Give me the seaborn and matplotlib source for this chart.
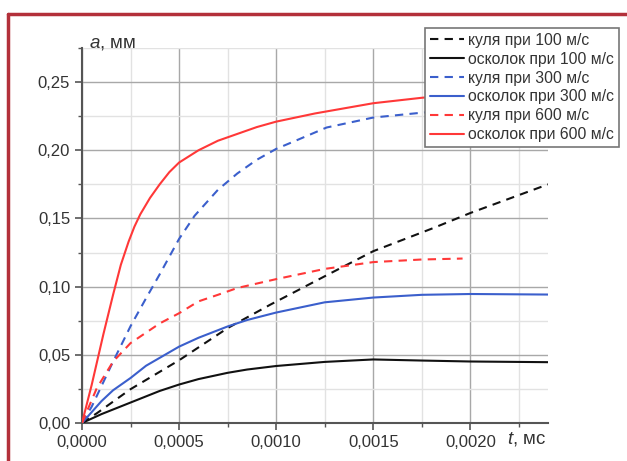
import matplotlib
matplotlib.use('Agg')

import numpy as np
import pandas as pd
import matplotlib.pyplot as plt
import seaborn as sns
from matplotlib.ticker import MultipleLocator, FuncFormatter
from matplotlib.lines import Line2D

# time t, ms  /  displacement a, mm
t_k100 = [0, 0.000076, 0.00025, 0.0005, 0.00075, 0.00097, 0.00125, 0.0015, 0.00181, 0.0020, 0.0024]
a_k100 = [0, 0.0071, 0.0248, 0.046, 0.0696, 0.0868, 0.1076, 0.126, 0.143, 0.154, 0.175]

t_o100 = [0, 0.0001, 0.00025, 0.0004, 0.0005, 0.0006, 0.00075, 0.00085, 0.0010, 0.00125, 0.0015,
          0.00175, 0.0020, 0.0024]
a_o100 = [0, 0.0065, 0.015, 0.0235, 0.0282, 0.0322, 0.0368, 0.0392, 0.0418, 0.0448, 0.0466,
          0.0458, 0.0451, 0.0446]

t_k300 = [0, 0.00005, 0.0001, 0.00016, 0.00025, 0.00033, 0.0004, 0.0005, 0.00058, 0.0007, 0.0008,
          0.0009, 0.0010, 0.0011, 0.00126, 0.0015, 0.00176, 0.0020]
a_k300 = [0, 0.012, 0.027, 0.045, 0.071, 0.0915, 0.109, 0.135, 0.152, 0.171, 0.183,
          0.193, 0.201, 0.207, 0.2167, 0.224, 0.2277, 0.229]

t_o300 = [0, 0.0001, 0.00016, 0.00025, 0.00033, 0.0005, 0.0006, 0.00075, 0.00085, 0.0010, 0.00125,
          0.0015, 0.00175, 0.0020, 0.0024]
a_o300 = [0, 0.016, 0.024, 0.033, 0.042, 0.056, 0.0625, 0.0708, 0.0755, 0.081, 0.0885,
          0.092, 0.094, 0.0946, 0.0942]

t_k600 = [0, 0.000076, 0.00016, 0.00025, 0.0004, 0.0005, 0.0006, 0.0007, 0.0008, 0.0010, 0.00125,
          0.0015, 0.00175, 0.00196]
a_k600 = [0, 0.0255, 0.045, 0.0586, 0.073, 0.0805, 0.0892, 0.094, 0.099, 0.1055, 0.113,
          0.118, 0.1199, 0.1206]

t_o600 = [0, 0.00005, 0.00011, 0.00016, 0.0002, 0.00024, 0.00027, 0.0003, 0.00035, 0.0004, 0.00045,
          0.0005, 0.0006, 0.0007, 0.0008, 0.0009, 0.0010, 0.0012, 0.0015, 0.00175, 0.0020]
a_o600 = [0, 0.028, 0.065, 0.094, 0.116, 0.133, 0.144, 0.153, 0.165, 0.175, 0.184,
          0.191, 0.200, 0.207, 0.212, 0.217, 0.221, 0.227, 0.2345, 0.2385, 0.2415]

labels = ['куля при 100 м/с', 'осколок при 100 м/с',
          'куля при 300 м/с', 'осколок при 300 м/с',
          'куля при 600 м/с', 'осколок при 600 м/с']
colors = ['#111111', '#111111', '#3b5fcc', '#3b5fcc', '#ff3838', '#ff3838']
dashed = [True, False, True, False, True, False]
series = [(t_k100, a_k100), (t_o100, a_o100), (t_k300, a_k300),
          (t_o300, a_o300), (t_k600, a_k600), (t_o600, a_o600)]

sns.set_style('white')
plt.rcParams['font.family'] = ['Liberation Sans', 'DejaVu Sans']
plt.rcParams['mathtext.fontset'] = 'custom'
plt.rcParams['mathtext.it'] = 'Liberation Sans:italic'
plt.rcParams['mathtext.rm'] = 'Liberation Sans'

fig = plt.figure(figsize=(6.27, 4.61), dpi=100)
ax = fig.add_axes([82/627, 1-423/461, (548-82)/627, (423-48)/461])

for (tx, ay), lab, c, d in zip(series, labels, colors, dashed):
    df = pd.DataFrame({'t': tx, 'a': ay})
    sns.lineplot(data=df, x='t', y='a', ax=ax, color=c, lw=1.5,
                 linestyle=(0, (4, 3)) if d else '-', label=lab, zorder=3)

ax.set_xlim(0, 0.0024)
ax.set_ylim(0, 0.275)
ax.xaxis.set_major_locator(MultipleLocator(0.0005))
ax.xaxis.set_minor_locator(MultipleLocator(0.00025))
ax.yaxis.set_major_locator(MultipleLocator(0.05))
ax.yaxis.set_minor_locator(MultipleLocator(0.025))
ax.xaxis.set_major_formatter(FuncFormatter(lambda v, p: ('%.4f' % v).replace('.', ',') if v < 0.0022 else ''))
ax.yaxis.set_major_formatter(FuncFormatter(lambda v, p: ('%.2f' % v).replace('.', ',')))
ax.grid(which='major', color='#a8a8a8', lw=1.0)
ax.grid(which='minor', color='#e2e2e2', lw=1.0)
ax.set_axisbelow(True)
ax.set_xlabel('')
ax.set_ylabel('')

for s in ['top', 'right']:
    ax.spines[s].set_visible(False)
for s in ['left', 'bottom']:
    ax.spines[s].set_color('#555555')
    ax.spines[s].set_linewidth(1.5)
ax.tick_params(which='major', direction='out', length=5, width=1.2, color='#555555',
               labelsize=12, labelcolor='#333333', bottom=True, left=True)
ax.tick_params(which='minor', direction='out', length=3, width=1.0, color='#555555',
               bottom=True, left=True)

fig.text(89/627, 1-44/461, r'$\it{a}$, мм', fontsize=13.5, color='#333333', ha='left', va='center')
fig.text(507/627, 1-439/461, r'$\it{t}$, мс', fontsize=13.5, color='#333333', ha='left', va='center')

leg = ax.legend(loc='upper left', bbox_to_anchor=(425/627, 1-28/461), bbox_transform=fig.transFigure,
                fontsize=11.3, frameon=True, fancybox=False, framealpha=1, edgecolor='#777777',
                handlelength=2.2, handletextpad=0.25, labelspacing=0.25, borderpad=0.3,
                borderaxespad=0)
leg.get_frame().set_linewidth(1.2)
for tx in leg.get_texts():
    tx.set_color('#333333')

# red frame of the figure panel
fig.add_artist(Line2D([8/627, 1], [1-14/461, 1-14/461], color='#b3303a', lw=2.5, transform=fig.transFigure))
fig.add_artist(Line2D([8/627, 8/627], [0, 1-14/461], color='#b3303a', lw=2.5, transform=fig.transFigure))

fig.savefig('out.png', dpi=100)
